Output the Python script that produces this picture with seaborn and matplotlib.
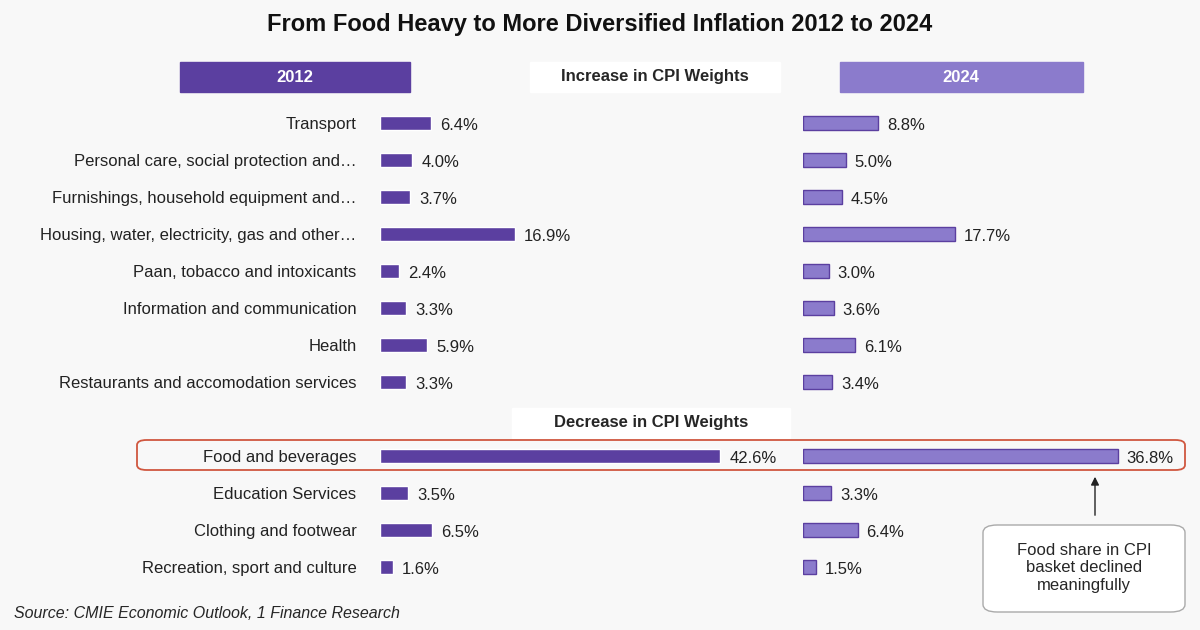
import numpy as np
import pandas as pd
import matplotlib
matplotlib.use("Agg")
import matplotlib.pyplot as plt
import seaborn as sns
from matplotlib.patches import FancyBboxPatch, Rectangle

categories = ["Transport", "Personal care, social protection and…",
              "Furnishings, household equipment and…",
              "Housing, water, electricity, gas and other…",
              "Paan, tobacco and intoxicants", "Information and communication",
              "Health", "Restaurants and accomodation services", " ",
              "Food and beverages", "Education Services",
              "Clothing and footwear", "Recreation, sport and culture"]
w2012 = [6.4, 4.0, 3.7, 16.9, 2.4, 3.3, 5.9, 3.3, np.nan, 42.6, 3.5, 6.5, 1.6]
w2024 = [8.8, 5.0, 4.5, 17.7, 3.0, 3.6, 6.1, 3.4, np.nan, 36.8, 3.3, 6.4, 1.5]

df = pd.DataFrame({"cat": categories, "y2012": w2012, "y2024": w2024})

sns.set_theme(style="white")
plt.rcParams["font.family"] = ["Liberation Sans", "DejaVu Sans"]
bg = "#f8f8f8"
dark = "#5b3fa0"
light = "#8b7bcc"

fig = plt.figure(figsize=(12, 6.3), dpi=100, facecolor=bg)
bot, h = 1 - 585.5 / 630, 481 / 630
axl = fig.add_axes([380 / 1200, bot, 380 / 1200, h])
axr = fig.add_axes([803 / 1200, bot, 357 / 1200, h])

sns.barplot(data=df, x="y2012", y="cat", order=categories, orient="h",
            color=dark, width=0.4, ax=axl, saturation=1)
sns.barplot(data=df, x="y2024", y="cat", order=categories, orient="h",
            color=light, edgecolor=dark, linewidth=1, width=0.4, ax=axr, saturation=1)

axl.set_xlim(0, 47.6)
axr.set_xlim(0, 41.7)
for ax, vals in ((axl, w2012), (axr, w2024)):
    ax.set_facecolor("none")
    ax.set_ylim(12.5, -0.5)
    ax.set_xlabel("")
    ax.set_ylabel("")
    ax.set_xticks([])
    for s in ax.spines.values():
        s.set_visible(False)
    for i, v in enumerate(vals):
        if not np.isnan(v):
            ax.text(v + 1.1 * ax.get_xlim()[1] / 45, i + 0.08, f"{v:.1f}%", va="center",
                    ha="left", fontsize=12, color="#222222")
axl.tick_params(axis="y", length=0, pad=17, labelsize=12, labelcolor="#222222")
axr.set_yticks([])

fig.text(0.5, 1 - 25 / 630, "From Food Heavy to More Diversified Inflation 2012 to 2024",
         ha="center", va="center", fontsize=17, fontweight="bold", color="#111111")
fig.patches.append(Rectangle((180 / 1200, 1 - 92 / 630), 230 / 1200, 30 / 630,
                             transform=fig.transFigure, color=dark))
fig.text(295 / 1200, 1 - 77 / 630, "2012", ha="center", va="center",
         color="white", fontsize=12, fontweight="bold")
fig.patches.append(Rectangle((840 / 1200, 1 - 92 / 630), 243 / 1200, 30 / 630,
                             transform=fig.transFigure, color=light))
fig.text(961 / 1200, 1 - 77 / 630, "2024", ha="center", va="center",
         color="white", fontsize=12, fontweight="bold")
for y, t, x0, x1 in ((77, "Increase in CPI Weights", 530, 780),
                     (423, "Decrease in CPI Weights", 512, 790)):
    fig.patches.append(Rectangle((x0 / 1200, 1 - (y + 15) / 630), (x1 - x0) / 1200,
                                 30 / 630, transform=fig.transFigure, color="white"))
    fig.text((x0 + x1) / 2400, 1 - y / 630, t, ha="center", va="center",
             fontsize=12, fontweight="bold")

fig.patches.append(FancyBboxPatch((137 / 1200, 1 - 470 / 630), 1048 / 1200, 30 / 630,
                                  boxstyle="round,pad=0,rounding_size=0.008",
                                  transform=fig.transFigure, fill=False,
                                  edgecolor="#d0573f", linewidth=1.3))
fig.patches.append(FancyBboxPatch((983 / 1200, 1 - 612 / 630), 202 / 1200, 87 / 630,
                                  boxstyle="round,pad=0,rounding_size=0.012",
                                  transform=fig.transFigure, facecolor="white",
                                  edgecolor="#aaaaaa", linewidth=1))
fig.text(1084 / 1200, 1 - 568 / 630, "Food share in CPI\nbasket declined\nmeaningfully",
         ha="center", va="center", fontsize=12, linespacing=1.2)
fig.add_artist(matplotlib.patches.FancyArrowPatch(
    (1095 / 1200, 1 - 518 / 630), (1095 / 1200, 1 - 474 / 630),
    transform=fig.transFigure, arrowstyle="-|>", mutation_scale=12, color="#222222", lw=1))
fig.text(14 / 1200, 1 - 614 / 630, "Source: CMIE Economic Outlook, 1 Finance Research",
         ha="left", va="center", fontsize=11.5, style="italic")

fig.savefig("out.png", dpi=100, facecolor=bg)
